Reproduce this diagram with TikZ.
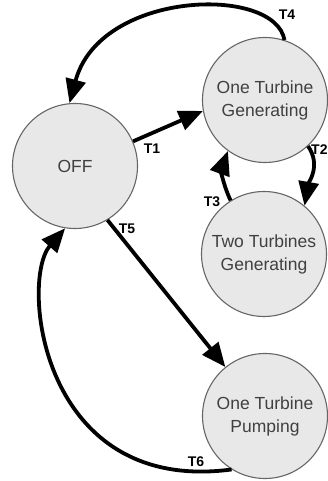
\documentclass[tikz,border=0pt]{standalone}
\usepackage{fontspec}
\setmainfont{Liberation Sans}
\usetikzlibrary{arrows.meta}
\begin{document}
\begin{tikzpicture}[x=1pt,y=1pt,
  state/.style={circle, draw=black!60, line width=1.1pt, fill=black!9,
    minimum size=125pt, inner sep=0pt, align=center, text=black!75,
    font=\fontsize{17.5}{23}\selectfont},
  trans/.style={line width=3.8pt, -{Triangle[length=24pt,width=20pt]}},
  tlabel/.style={font=\fontsize{14}{14}\bfseries\selectfont, inner sep=0pt}]
  \useasboundingbox (0,0) rectangle (328,481);

  % states
  \node[state] (off) at (75,315) {OFF};
  \node[state] (otg) at (265,381) {One Turbine\\Generating};
  \node[state] (ttg) at (264,227) {Two Turbines\\Generating};
  \node[state] (otp) at (265,65) {One Turbine\\Pumping};

  % transitions
  \draw[trans] (off.23) -- (otg.190);
  \draw[trans] (otg.-47) to[out=-55,in=80] (ttg.50);
  \draw[trans] (ttg.122) to[out=115,in=-110] (otg.234);
  \draw[trans] (otg.72) .. controls (275,496) and (100,491) .. (off.95);
  \draw[trans] (off.-59) -- (otp.129);
  \draw[trans] (otp.-122) .. controls (40,-14) and (20,201) .. (off.-99);

  % transition labels
  \node[tlabel] (l1) at (152,332) {T1};
  \node[tlabel, anchor=west] (l2) at (311,331) {T2};
  \node[tlabel] (l3) at (212,279) {T3};
  \node[tlabel] (l4) at (287,466) {T4};
  \node[tlabel] (l5) at (127,252) {T5};
  \node[tlabel] (l6) at (196,19) {T6};
\end{tikzpicture}
\end{document}
